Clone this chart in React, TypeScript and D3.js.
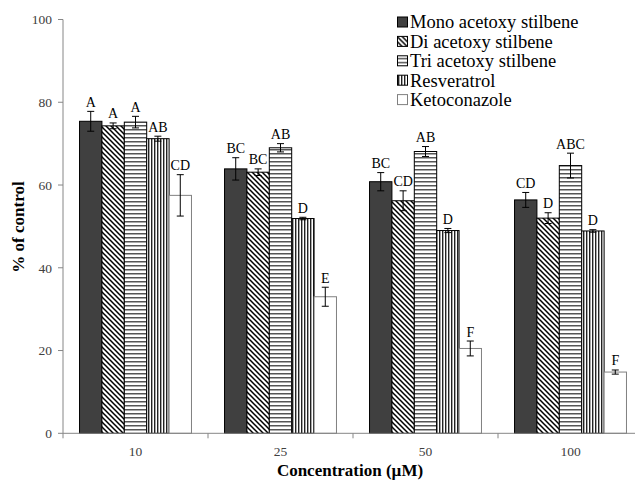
import { useEffect, useRef } from 'react';
import * as d3 from 'd3';

const categories = ['10', '25', '50', '100'];
const seriesNames = ['Mono acetoxy stilbene', 'Di acetoxy stilbene', 'Tri acetoxy stilbene', 'Resveratrol', 'Ketoconazole'];

// values per series, one entry per concentration
const mono = [75.4, 63.9, 60.8, 56.4];
const di = [74.3, 63.1, 56.2, 52.0];
const tri = [75.2, 69.0, 68.1, 64.7];
const resv = [71.2, 51.9, 49.0, 48.9];
const keto = [57.5, 33.0, 20.5, 14.8];

const monoErr = [2.4, 2.7, 2.2, 1.8];
const diErr = [0.7, 0.8, 2.4, 1.3];
const triErr = [1.4, 1.0, 1.2, 3.0];
const resvErr = [0.6, 0.3, 0.5, 0.3];
const ketoErr = [5.0, 2.3, 1.8, 0.5];

const monoLetters = ['A', 'BC', 'BC', 'CD'];
const diLetters = ['A', 'BC', 'CD', 'D'];
const triLetters = ['A', 'AB', 'AB', 'ABC'];
const resvLetters = ['AB', 'D', 'D', 'D'];
const ketoLetters = ['CD', 'E', 'F', 'F'];

const yTicks = [0, 20, 40, 60, 80, 100];

const values = [mono, di, tri, resv, keto];
const errors = [monoErr, diErr, triErr, resvErr, ketoErr];
const letters = [monoLetters, diLetters, triLetters, resvLetters, ketoLetters];
const fills = ['#404040', 'url(#p-diag)', 'url(#p-horiz)', 'url(#p-vert)', '#ffffff'];
const strokes = ['#000', '#000', '#000', '#000', '#808080'];

export default function App() {
    const ref = useRef<SVGSVGElement>(null);

    useEffect(() => {
        document.body.style.margin = '0';
        if (!ref.current) return;
        const svg = d3.select(ref.current);
        svg.selectAll('*').remove();

        const width = 635;
        const height = 481;
        const left = 63;
        const right = 643; // plot runs past the right edge, as in the original
        const top = 19.5;
        const bottom = 433.3;

        svg.attr('width', width).attr('height', height)
            .style('display', 'block')
            .style('font-family', "'Liberation Serif', 'Times New Roman', serif");

        // patterns
        const defs = svg.append('defs');
        const diag = defs.append('pattern').attr('id', 'p-diag')
            .attr('patternUnits', 'userSpaceOnUse').attr('width', 5).attr('height', 5);
        diag.append('rect').attr('width', 5).attr('height', 5).attr('fill', '#fff');
        diag.append('path').attr('d', 'M-1,-1L6,6M-1,4L1,6M4,-1L6,1')
            .attr('stroke', '#000').attr('stroke-width', 1.5);

        const horiz = defs.append('pattern').attr('id', 'p-horiz')
            .attr('patternUnits', 'userSpaceOnUse').attr('width', 4).attr('height', 4);
        horiz.append('rect').attr('width', 4).attr('height', 4).attr('fill', '#fff');
        horiz.append('rect').attr('y', 1).attr('width', 4).attr('height', 1.5).attr('fill', '#555');

        const vert = defs.append('pattern').attr('id', 'p-vert')
            .attr('patternUnits', 'userSpaceOnUse').attr('width', 3).attr('height', 3);
        vert.append('rect').attr('width', 3).attr('height', 3).attr('fill', '#fff');
        vert.append('rect').attr('x', 1).attr('width', 1.4).attr('height', 3).attr('fill', '#222');

        const x0 = d3.scaleBand<string>().domain(categories).range([left, right]);
        const step = x0.step();
        const x1 = d3.scaleBand<number>().domain(d3.range(seriesNames.length))
            .range([step * 0.114, step * 0.886]);
        const y = d3.scaleLinear().domain([0, 100]).range([bottom, top]);

        // y axis
        svg.append('line').attr('x1', left).attr('x2', left).attr('y1', top).attr('y2', bottom)
            .attr('stroke', '#868686');
        yTicks.forEach(t => {
            svg.append('line').attr('x1', left - 5).attr('x2', left).attr('y1', y(t)).attr('y2', y(t))
                .attr('stroke', '#868686');
            svg.append('text').attr('x', left - 11).attr('y', y(t)).attr('dy', '0.35em')
                .attr('text-anchor', 'end').attr('font-size', 13.5)
                .attr('fill', '#404040').text(t);
        });

        // bars
        values.forEach((vals, s) => {
            vals.forEach((v, i) => {
                const bx = (x0(categories[i]) as number) + (x1(s) as number);
                const bw = x1.bandwidth();
                svg.append('rect').attr('x', bx).attr('y', y(v)).attr('width', bw)
                    .attr('height', bottom - y(v)).attr('fill', fills[s])
                    .attr('stroke', strokes[s]).attr('stroke-width', 1);
                const cx = bx + bw / 2;
                const e = errors[s][i];
                svg.append('path')
                    .attr('d', `M${cx - 3.5},${y(v + e)}H${cx + 3.5}M${cx},${y(v + e)}V${y(v - e)}M${cx - 3.5},${y(v - e)}H${cx + 3.5}`)
                    .attr('stroke', '#000').attr('stroke-width', 1).attr('fill', 'none');
                svg.append('text').attr('x', cx).attr('y', y(v + e) - 4.5)
                    .attr('text-anchor', 'middle').attr('font-size', 14)
                    .attr('fill', '#000').text(letters[s][i]);
            });
        });

        // x axis
        svg.append('line').attr('x1', left).attr('x2', right).attr('y1', bottom).attr('y2', bottom)
            .attr('stroke', '#868686');
        categories.forEach(c => {
            const tx = x0(c) as number;
            svg.append('line').attr('x1', tx).attr('x2', tx).attr('y1', bottom).attr('y2', bottom + 5)
                .attr('stroke', '#868686');
            svg.append('text').attr('x', tx + step / 2).attr('y', 456)
                .attr('text-anchor', 'middle').attr('font-size', 13.5)
                .attr('fill', '#404040').text(c);
        });

        // axis titles
        svg.append('text').attr('x', 350).attr('y', 476).attr('text-anchor', 'middle')
            .attr('font-size', 17).attr('font-weight', 'bold')
            .text('Concentration (\u00b5M)');
        svg.append('text').attr('transform', 'translate(24,227) rotate(-90)').attr('text-anchor', 'middle')
            .attr('font-size', 17).attr('font-weight', 'bold')
            .text('% of control');

        // legend
        const lg = svg.append('g').attr('transform', 'translate(397,22)');
        seriesNames.forEach((name, s) => {
            const row = lg.append('g').attr('transform', `translate(0,${s * 19.4})`);
            row.append('rect').attr('x', 0.5).attr('y', -5).attr('width', 10).attr('height', 10)
                .attr('fill', fills[s]).attr('stroke', strokes[s]);
            row.append('text').attr('x', 13).attr('y', 0).attr('dy', '0.35em')
                .attr('font-size', 18.5).attr('fill', '#000').text(name);
        });
    }, []);

    return <svg ref={ref} />;
}
